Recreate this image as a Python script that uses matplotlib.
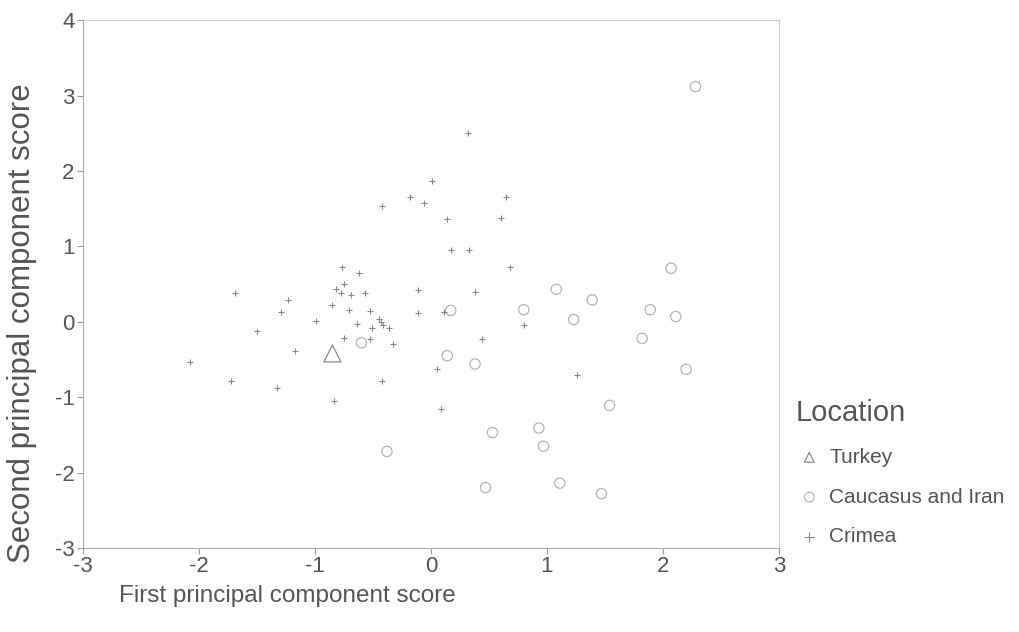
import matplotlib
matplotlib.use('Agg')
import matplotlib.pyplot as plt

plt.rcParams['font.family'] = ['Liberation Sans', 'DejaVu Sans']
plt.rcParams['axes.unicode_minus'] = False

# Turkey
turkey_x = [-0.85]
turkey_y = [-0.42]

# Caucasus and Iran
cauc_x = [-0.60, -0.38, 1.08, 1.39, 0.17, 0.80, 1.23, 0.14, 0.38, 1.54, 0.53,
          0.93, 0.97, 0.47, 1.11, 1.47, 2.07, 1.89, 2.11, 1.82, 2.20, 2.28]
cauc_y = [-0.28, -1.72, 0.43, 0.29, 0.15, 0.16, 0.03, -0.45, -0.56, -1.11, -1.47,
          -1.41, -1.65, -2.20, -2.14, -2.28, 0.71, 0.16, 0.07, -0.22, -0.63, 3.12]

# Crimea
crim_x = [-0.77, -0.62, -0.82, -0.75, -0.78, -0.69, -0.57, -1.69, -1.23, -1.29,
          -0.85, -0.71, -0.53, -0.11, -0.11, -0.99, -0.45, -0.43, -0.41, -0.64,
          -0.51, -0.36, -1.50, -0.75, -0.53, -0.33, -1.17, -2.08, -1.72, -1.33,
          -0.42, -0.84, 0.01, -0.18, -0.06, 0.65, 0.60, 0.14, 0.17, 0.33,
          0.68, 0.38, 0.32, -0.42, 0.11, 0.80, 0.44, 0.05, 1.26, 0.09]
crim_y = [0.72, 0.65, 0.44, 0.50, 0.38, 0.35, 0.38, 0.38, 0.29, 0.13,
          0.22, 0.16, 0.14, 0.42, 0.12, 0.01, 0.04, 0.00, -0.04, -0.03,
          -0.08, -0.08, -0.12, -0.21, -0.23, -0.30, -0.39, -0.53, -0.78, -0.88,
          -0.79, -1.05, 1.87, 1.65, 1.58, 1.65, 1.38, 1.36, 0.95, 0.95,
          0.73, 0.40, 2.51, 1.53, 0.13, -0.04, -0.23, -0.63, -0.70, -1.16]

fig = plt.figure(figsize=(10.2, 6.32), dpi=100)
ax = fig.add_axes([0.0814, 0.133, 0.6823, 0.835])

ax.scatter(turkey_x, turkey_y, marker='^', s=150, facecolors='none',
           edgecolors='#8a8a8a', linewidths=0.9, label='Turkey', zorder=3)
ax.scatter(cauc_x, cauc_y, marker='o', s=55, facecolors='none',
           edgecolors='#b4b4b4', linewidths=0.9, label='Caucasus and Iran', zorder=3)
ax.scatter(crim_x, crim_y, marker='+', s=20, color='#888888',
           linewidths=0.8, label='Crimea', zorder=3)

ax.set_xlim(-3, 3)
ax.set_ylim(-3, 4)
ax.set_xticks(range(-3, 4))
ax.set_yticks(range(-3, 5))

for side in ['left', 'bottom']:
    ax.spines[side].set_color('#aaaaaa')
    ax.spines[side].set_linewidth(0.8)
for side in ['top', 'right']:
    ax.spines[side].set_color('#cccccc')
    ax.spines[side].set_linewidth(0.8)
    ax.spines[side].set_linestyle((0, (3, 1)))

ax.tick_params(direction='out', length=4, width=0.8, color='#999999',
               labelcolor='#555555', labelsize=16, pad=2)

fig.text(0.117, 0.057, 'First principal component score', fontsize=17.5,
         color='#555555', ha='left', va='center')
fig.text(0.022, 0.488, 'Second principal component score', fontsize=22.5,
         color='#555555', rotation=90, ha='center', va='center')

leg = fig.legend(loc='upper left', bbox_to_anchor=(0.772, 0.382), frameon=False,
                 title='Location', fontsize=15, title_fontsize=21,
                 labelcolor='#555555', handlelength=1.3, handletextpad=0.3,
                 labelspacing=1.0, borderaxespad=0, alignment='left')
leg.get_title().set_color('#555555')
for h in leg.legend_handles:
    try:
        h.set_sizes([50])
    except AttributeError:
        pass

fig.savefig('out.png', dpi=100, facecolor='white')
